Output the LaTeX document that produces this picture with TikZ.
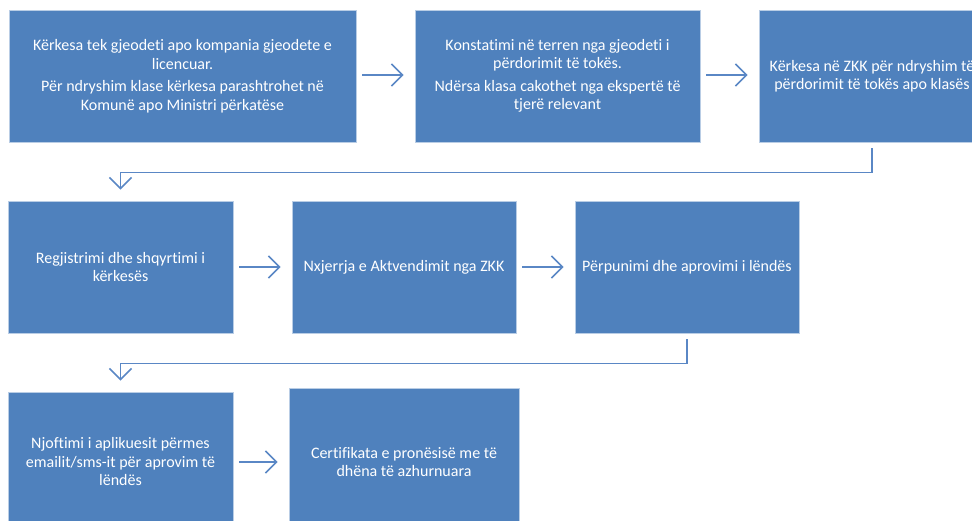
\documentclass[tikz,border=0pt]{standalone}
\usepackage{fontspec}
\setmainfont{Carlito}[Ligatures={NoCommon}]
\usetikzlibrary{arrows.meta}
\definecolor{boxblue}{RGB}{79,129,189}
\definecolor{boxedge}{RGB}{185,205,229}
\definecolor{linkblue}{RGB}{90,135,197}
\tikzset{
  stepbox/.style={rectangle, fill=boxblue, draw=boxedge, line width=0.8bp,
    text=white, align=center, inner sep=0pt,
    font=\fontsize{16bp}{18.5bp}\selectfont},
  conn/.style={draw=linkblue, line width=1.6bp,
    -{Straight Barb[length=11bp,width=22bp,line width=1.6bp]},
    shorten <=6bp, shorten >=11bp}
}
\begin{document}
\begin{tikzpicture}[x=1bp,y=-1bp]
\useasboundingbox[fill=white] (0,0) rectangle (972,521);
\clip (0,0) rectangle (972,521);
% row 1
\node[stepbox, minimum width=347bp, minimum height=132bp] (b1) at (182.5,76)
  {Kërkesa tek gjeodeti apo kompania gjeodete e\\ licencuar.\\[4bp]
   Për ndryshim klase kërkesa parashtrohet në\\ Komunë apo Ministri përkatëse};
\node[stepbox, minimum width=285bp, minimum height=132bp] (b2) at (557.5,76)
  {Konstatimi në terren nga gjeodeti i\\ përdorimit të tokës.\\[4bp]
   Ndërsa klasa cakothet nga ekspertë të\\ tjerë relevant};
\node[stepbox, minimum width=226bp, minimum height=132bp] (b3) at (872,76)
  {Kërkesa në ZKK për ndryshim të\\ përdorimit të tokës apo klasës};
% row 2
\node[stepbox, minimum width=225bp, minimum height=132bp] (b4) at (120.5,267)
  {Regjistrimi dhe shqyrtimi i\\ kërkesës};
\node[stepbox, minimum width=224bp, minimum height=132bp] (b5) at (404,267)
  {Nxjerrja e Aktvendimit nga ZKK};
\node[stepbox, minimum width=224bp, minimum height=132bp] (b6) at (687,267)
  {Përpunimi dhe aprovimi i lëndës};
% row 3
\node[stepbox, minimum width=225bp, minimum height=140bp] (b7) at (120.5,462)
  {Njoftimi i aplikuesit përmes\\ emailit/sms-it për aprovim të\\ lëndës};
\node[stepbox, minimum width=230bp, minimum height=148bp] (b8) at (404,462)
  {Certifikata e pronësisë me të\\ dhëna të azhurnuara};
% connectors
\draw[conn] (b1.east |- 0,75) -- (b2.west |- 0,75);
\draw[conn] (b2.east |- 0,75) -- (b3.west |- 0,75);
\draw[conn] (b4) -- (b5);
\draw[conn] (b5) -- (b6);
\draw[conn] (b7) -- (b8);
\draw[conn] (b3.south) -- ++(0,30) -| (b4.north);
\draw[conn] (b6.south) -- ++(0,30) -| (b7.north);
\end{tikzpicture}
\end{document}
